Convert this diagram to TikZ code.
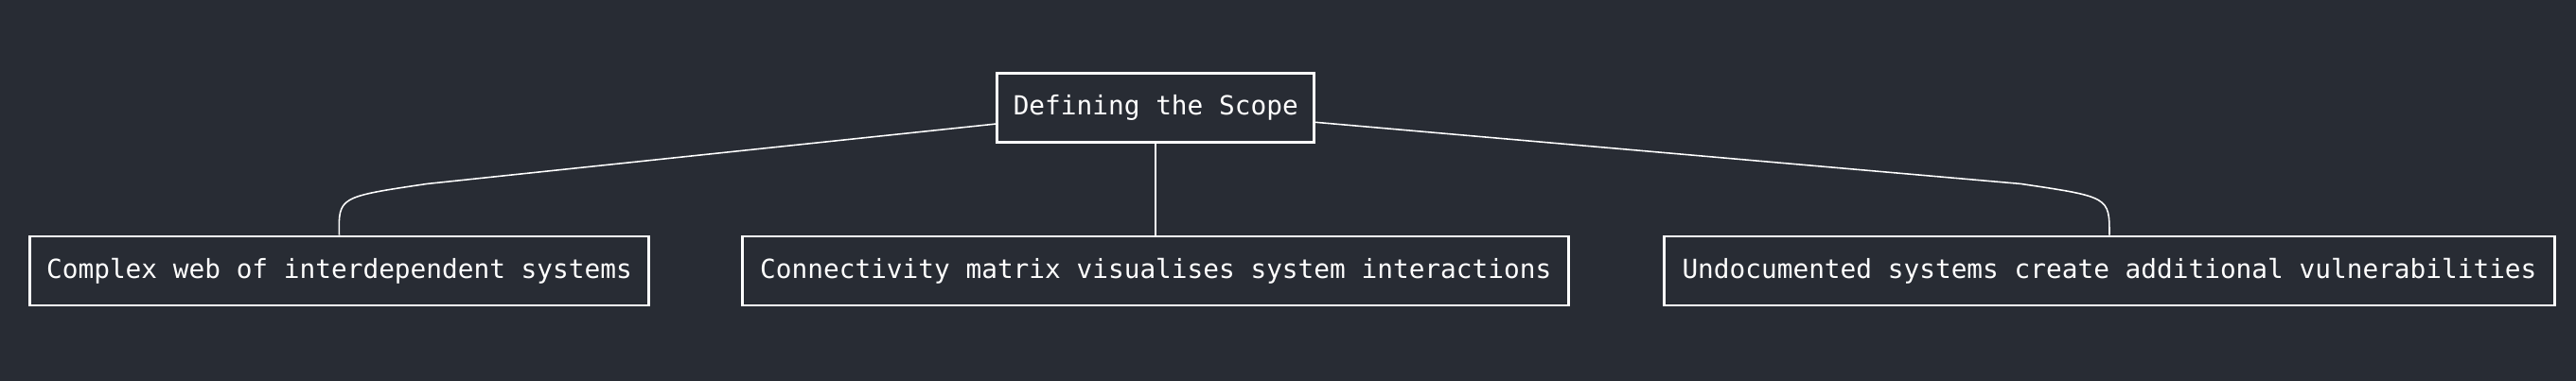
\documentclass[tikz,border=0pt]{standalone}
\usepackage{fontspec}
\setmonofont{DejaVu Sans Mono}
\definecolor{bg}{HTML}{282C34}
\begin{document}
\begin{tikzpicture}[x=1pt,y=-1pt,
  box/.style={draw=white,line width=1.6pt,fill=bg,text=white,font=\ttfamily\fontsize{16}{19}\selectfont,inner sep=0pt,minimum height=42pt},
  link/.style={draw=white,line width=0.9pt}]
\fill[bg] (0,0) rectangle (1568,232);
\useasboundingbox (0,0) rectangle (1568,232);
\node[box,minimum width=193pt] (r) at (703.5,65.5) {Defining the Scope};
\node[box,minimum width=377pt] (a) at (206.5,165) {Complex web of interdependent systems};
\node[box,minimum width=503pt] (b) at (703.5,165) {Connectivity matrix visualises system interactions};
\node[box,minimum width=542pt] (c) at (1284,165) {Undocumented systems create additional vulnerabilities};
\coordinate (rl) at ([yshift=-10pt]r.west);
\coordinate (rr) at ([yshift=-9pt]r.east);
\draw[link] (rl) -- (260,112) .. controls (206,120) .. (a.north);
\draw[link] (r.south) -- (b.north);
\draw[link] (rr) -- (1230,112) .. controls (1284,120) .. (c.north);
\end{tikzpicture}
\end{document}
